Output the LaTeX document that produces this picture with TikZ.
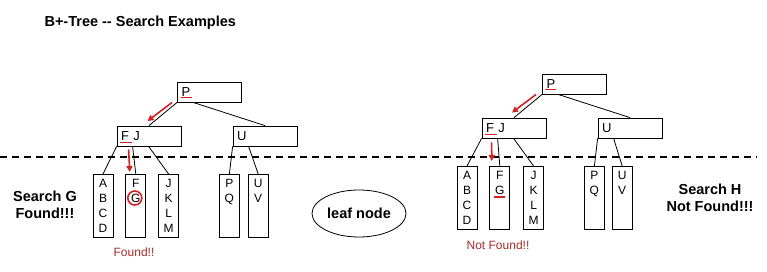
\documentclass[tikz,border=0pt]{standalone}
\usepackage{fontspec}
\setmainfont{Liberation Sans}
\usepackage{tikz}
\usetikzlibrary{
    positioning,
    shapes.geometric,
    arrows.meta
}
\definecolor{HitRed}{HTML}{D42222}
\definecolor{NoteRed}{HTML}{A82A2A}

\tikzset{
    keybox/.style={
        draw,
        line width=0.8pt,
        text width=56pt,
        inner xsep=4pt,
        inner ysep=0pt,
        minimum height=20pt,
        align=left,
        font=\fontsize{13}{15}\selectfont
    },
    leafbox/.style={
        draw,
        line width=0.8pt,
        text width=20pt,
        inner sep=0pt,
        align=center,
        text height=13.5pt,
        text depth=49.5pt,
        anchor=north,
        font=\fontsize{12}{15}\selectfont
    },
    pointer/.style={line width=0.8pt},
    hitmark/.style={draw=HitRed, line width=1.6pt},
    hitarrow/.style={hitmark, -{Triangle[length=6pt,width=6pt]}},
    bigtext/.style={
        align=center,
        font=\bfseries\fontsize{14.5}{17}\selectfont
    },
    notetext/.style={
        text=NoteRed,
        font=\fontsize{12}{14}\selectfont
    }
}

\begin{document}
\begin{tikzpicture}[x=1pt,y=-1pt]
    \useasboundingbox (0,0) rectangle (767,272);

    \node[bigtext, anchor=west] (title) at (41,23) {B+-Tree {-}{-} Search Examples};

    % linha entre nos internos e folhas
    \coordinate (cutW) at (0,157);
    \coordinate (cutE) at (757,157);
    \draw[line width=1.5pt, dash pattern=on 7pt off 5pt] (cutW) -- (cutE);

    % arvore da esquerda: busca por G
    \node[keybox] (rootL) at (209.5,92) {P};
    \node[keybox] (fjL) at (149,136) {F J};
    \node[keybox] (uL) at (265,136) {U};
    \node[leafbox] (leafAL) at (103,174) {A\\B\\C\\D};
    \node[leafbox, right=12pt of leafAL] (leafFL) {F\\G};
    \node[leafbox, right=12pt of leafFL] (leafJL) {J\\K\\L\\M};
    \node[leafbox, right=40pt of leafJL] (leafPL) {P\\Q};
    \node[leafbox, right=8pt of leafPL] (leafUL) {U\\V};

    \draw[pointer] (rootL.south west) -- (fjL.north);
    \draw[pointer] ([xshift=16pt]rootL.south west) -- (uL.north);
    \draw[pointer] (fjL.south west) -- (leafAL.north);
    \draw[pointer] ([xshift=16pt]fjL.south west) -- (leafFL.north);
    \draw[pointer] ([xshift=32pt]fjL.south west) -- (leafJL.north);
    \draw[pointer] (uL.south west) -- (leafPL.north);
    \draw[pointer] ([xshift=16pt]uL.south west) -- (leafUL.north);

    \draw[hitmark] ([xshift=4pt,yshift=5pt]rootL.south west) -- ++(11pt,0);
    \draw[hitarrow] ([xshift=-5pt]rootL.south west) -- ([xshift=-1.5pt,yshift=4.5pt]fjL.north);
    \draw[hitmark] ([xshift=3pt,yshift=4pt]fjL.south west) -- ++(12pt,0);
    \draw[hitarrow] ([xshift=12pt,yshift=-3pt]fjL.south west) -- ([xshift=-6pt,yshift=2pt]leafFL.north);
    \draw[hitmark] ([xshift=-1pt,yshift=-24pt]leafFL.north) circle (7pt);

    \node[bigtext] (searchG) at (45,205) {Search G\\Found!!!};
    \node[notetext] (foundG) at (134,252) {Found!!};

    \node[
        draw,
        ellipse,
        line width=0.8pt,
        minimum width=94pt,
        minimum height=47pt,
        inner sep=0pt,
        bigtext
    ] (leafnote) at (359,213.5) {leaf node};

    % arvore da direita: busca por H
    \node[keybox] (rootR) at (574.5,84) {P};
    \node[keybox] (fjR) at (514,128) {F J};
    \node[keybox] (uR) at (630,128) {U};
    \node[leafbox] (leafAR) at (467,166) {A\\B\\C\\D};
    \node[leafbox, right=12pt of leafAR] (leafFR) {F\\G};
    \node[leafbox, right=13pt of leafFR] (leafJR) {J\\K\\L\\M};
    \node[leafbox, right=40pt of leafJR] (leafPR) {P\\Q};
    \node[leafbox, right=7pt of leafPR] (leafUR) {U\\V};

    \draw[pointer] (rootR.south west) -- (fjR.north);
    \draw[pointer] ([xshift=16pt]rootR.south west) -- (uR.north);
    \draw[pointer] (fjR.south west) -- (leafAR.north);
    \draw[pointer] ([xshift=16pt]fjR.south west) -- (leafFR.north);
    \draw[pointer] ([xshift=32pt]fjR.south west) -- (leafJR.north);
    \draw[pointer] (uR.south west) -- (leafPR.north);
    \draw[pointer] ([xshift=16pt]uR.south west) -- (leafUR.north);

    \draw[hitmark] ([xshift=3pt,yshift=5pt]rootR.south west) -- ++(11pt,0);
    \draw[hitarrow] ([xshift=-6pt]rootR.south west) -- ([xshift=-2pt,yshift=5pt]fjR.north);
    \draw[hitmark] ([xshift=3pt,yshift=4pt]fjR.south west) -- ++(12pt,0);
    \draw[hitarrow] ([xshift=10pt,yshift=-4pt]fjR.south west) -- ([xshift=-8pt,yshift=5pt]leafFR.north);
    \draw[hitmark] ([xshift=-6pt,yshift=-31pt]leafFR.north) -- ++(11pt,0);

    \node[bigtext] (searchH) at (710,198) {Search H\\Not Found!!!};
    \node[notetext] (foundH) at (498,245) {Not Found!!};
\end{tikzpicture}
\end{document}
